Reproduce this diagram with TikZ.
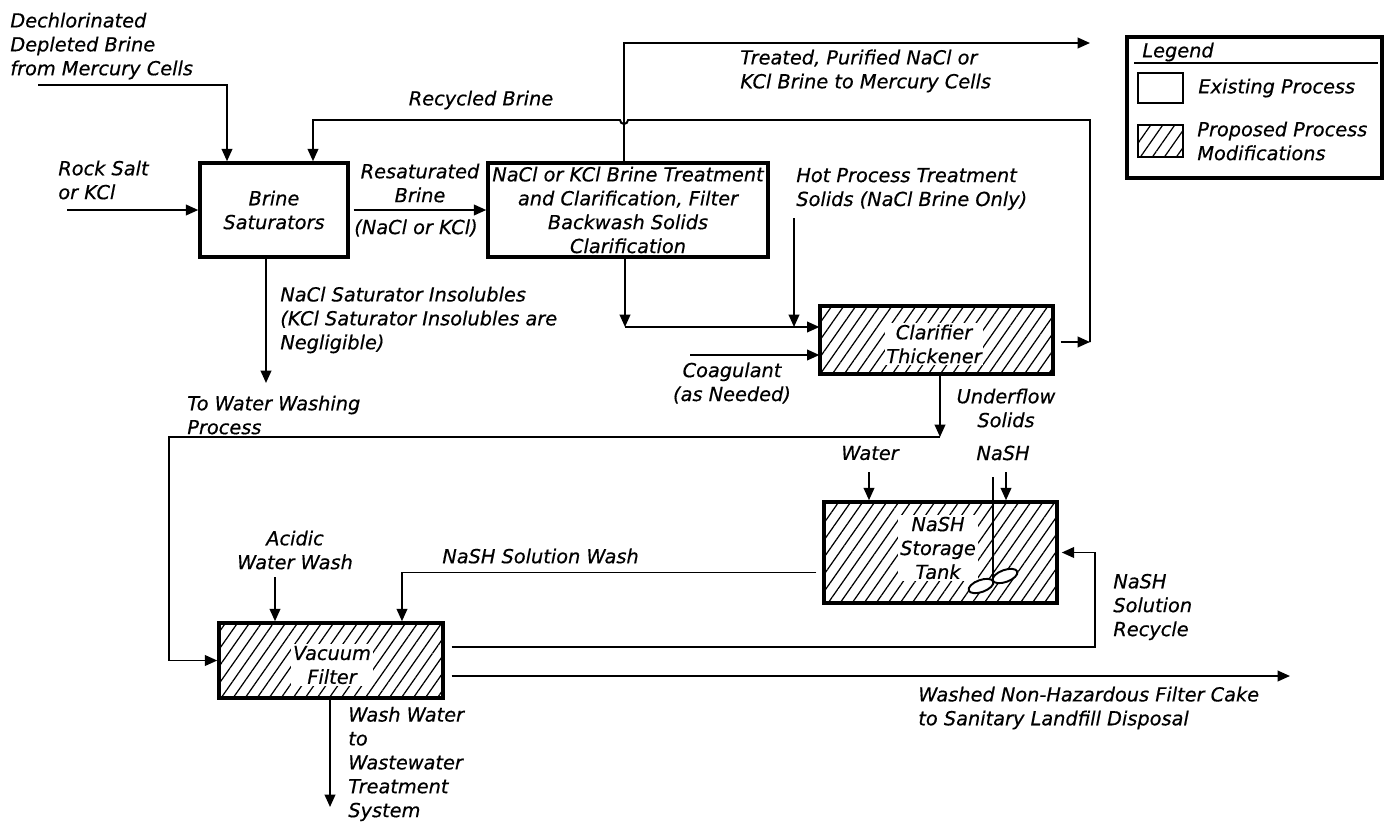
\documentclass[tikz,border=0pt]{standalone}
\usepackage{fontspec}
\setmainfont{DejaVu Sans}[ItalicFeatures={FakeBold=0.5}]
\usetikzlibrary{arrows.meta,patterns.meta}
\newcommand\flowfont{\fontsize{11}{13.6}\selectfont\itshape}
\tikzset{
  proc/.style={draw, line width=2pt, inner sep=0pt, align=center},
  hatch/.style={draw, line width=2pt, pattern={Lines[angle=55,distance=5.6pt,line width=0.7pt]}},
  blank/.style={fill=white, inner sep=1pt, align=center},
  pipe/.style={line width=1.1pt},
  stream/.style={line width=1.1pt, -{Triangle[length=7pt,width=6pt]}},
  txt/.style={align=left, anchor=west, inner sep=0pt},
  ctxt/.style={align=center, inner sep=0pt},
}
\begin{document}
\begin{tikzpicture}[x=0.02cm, y=-0.02cm, every node/.style={font=\flowfont}]
\useasboundingbox (0,0) rectangle (1389,825);

% process units
\node[proc, minimum width=2.96cm, minimum height=1.88cm] (sat) at (274,210) {Brine\\Saturators};
\node[proc, minimum width=5.6cm, minimum height=1.88cm] (treat) at (628,210) {NaCl or KCl Brine Treatment\\and Clarification, Filter\\Backwash Solids\\Clarification};
\node[hatch, minimum width=4.66cm, minimum height=1.36cm] (clar) at (936.5,340) {};
\node[blank] (clartxt) at (934,344) {Clarifier\\Thickener};
\node[hatch, minimum width=4.66cm, minimum height=2.02cm] (tank) at (940.5,552.5) {};
\node[blank] (tanktxt) at (938,548) {NaSH\\Storage\\Tank};
\node[hatch, minimum width=4.48cm, minimum height=1.5cm] (vac) at (331,660.5) {};
\node[blank] (vactxt) at (332,665) {Vacuum\\Filter};

% agitator
\coordinate (shafttop) at (993,477);
\coordinate (shaftbot) at (993,581);
\draw[pipe] (shafttop) -- (shaftbot);
\draw[pipe, fill=white, rotate around={20:(981,586)}] (981,586) ellipse [x radius=13, y radius=6];
\draw[pipe, fill=white, rotate around={20:(1005,576)}] (1005,576) ellipse [x radius=13, y radius=6];

% legend
\node[draw, line width=2pt, minimum width=5.1cm, minimum height=2.82cm] (legend) at (1254.5,107.5) {};
\node[txt] (legtitle) at (1142,52) {Legend};
\draw[pipe] (1134,63) -- (1378,63);
\node[draw, line width=1.4pt, minimum width=0.9cm, minimum height=0.6cm] (legex) at (1160.5,88) {};
\node[txt] (legextxt) at (1198,88) {Existing Process};
\node[hatch, line width=1.4pt, minimum width=0.9cm, minimum height=0.64cm] (legpr) at (1160.5,141) {};
\node[txt] (legprtxt) at (1197,141) {Proposed Process\\Modifications};

% labels
\node[txt] (dcltxt) at (10,46) {Dechlorinated\\Depleted Brine\\from Mercury Cells};
\node[txt] (rocktxt) at (58,180) {Rock Salt\\or KCl};
\node[ctxt] (resattxt) at (420,183) {Resaturated\\Brine};
\node[ctxt] (resatsub) at (416,228) {(NaCl or KCl)};
\node[ctxt] (recytxt) at (481,100) {Recycled Brine};
\node[txt] (treattxt) at (740,71) {Treated, Purified NaCl or\\KCl Brine to Mercury Cells};
\node[txt] (hottxt) at (796,189) {Hot Process Treatment\\Solids (NaCl Brine Only)};
\node[txt] (insoltxt) at (280,320) {NaCl Saturator Insolubles\\(KCl Saturator Insolubles are\\Negligible)};
\node[txt] (washtxt) at (187,415) {To Water Washing\\Process};
\node[ctxt] (coagtxt) at (732,383) {Coagulant\\(as Needed)};
\node[ctxt] (undertxt) at (1006,408) {Underflow\\Solids};
\node[ctxt] (watertxt) at (870,453) {Water};
\node[ctxt] (nashtxt) at (1003,453) {NaSH};
\node[txt] (nwashtxt) at (442,556) {NaSH Solution Wash};
\node[ctxt] (acidtxt) at (295,550) {Acidic\\Water Wash};
\node[txt] (nrecytxt) at (1113,607) {NaSH\\Solution\\Recycle};
\node[txt] (wwtxt) at (348,764) {Wash Water\\to\\Wastewater\\Treatment\\System};
\node[txt] (caketxt) at (918,708) {Washed Non-Hazardous Filter Cake\\to Sanitary Landfill Disposal};

% streams
\coordinate (dcl) at (38,85);
\draw[stream] (dcl) -| ([xshift=-0.94cm]sat.north);
\coordinate (rock) at (67,210);
\draw[stream] (rock) -- (sat.west);
\draw[stream, shorten <=0.08cm] (sat.east) -- (treat.west);
\coordinate (treatout) at (1090,43);
\draw[stream] ([xshift=-0.08cm]treat.north) |- (treatout);
\coordinate (rj) at (1090,342);
\draw[stream, shorten <=0.14cm] (clar.east |- rj) -- (rj);
\coordinate (hop) at (628,120);
\draw[stream] (rj) |- (hop) arc[start angle=0, end angle=180, radius=4] -| ([xshift=0.78cm]sat.north);
\coordinate (fj) at (625,327);
\draw[stream] ([xshift=-0.06cm]treat.south) -- (fj);
\draw[stream] (fj) -- (fj -| clar.west);
\coordinate (hotin) at (794,218);
\draw[stream] (hotin) -- (hotin |- fj);
\coordinate (coag) at (690,355);
\draw[stream] (coag) -- (coag -| clar.west);
\coordinate (uj) at (940,437);
\draw[stream] (clar.south -| uj) -- (uj);
\coordinate (ucorner) at (169,437);
\draw[stream] (uj) -- (ucorner) |- (vac.west);
\coordinate (insol) at (266,383);
\draw[stream] (sat.south -| insol) -- (insol);
\coordinate (waterin) at (869,472);
\draw[stream] (waterin) -- (waterin |- tank.north);
\coordinate (nashin) at (1006,472);
\draw[stream] (nashin) -- (nashin |- tank.north);
\draw[stream] ([xshift=-0.12cm,yshift=-0.4cm]tank.west) -| ([xshift=1.42cm]vac.north);
\coordinate (acidin) at (275,577);
\draw[stream] (acidin) -- (acidin |- vac.north);
\coordinate (rc) at (1095,647);
\draw[stream, shorten <=0.14cm, shorten >=0.06cm] (vac.east |- rc) -- (rc) |- (tank.east);
\coordinate (cakeout) at (1290,676);
\draw[stream, shorten <=0.14cm] (vac.east |- cakeout) -- (cakeout);
\coordinate (wwout) at (330,807);
\draw[stream] (vac.south -| wwout) -- (wwout);
\end{tikzpicture}
\end{document}
